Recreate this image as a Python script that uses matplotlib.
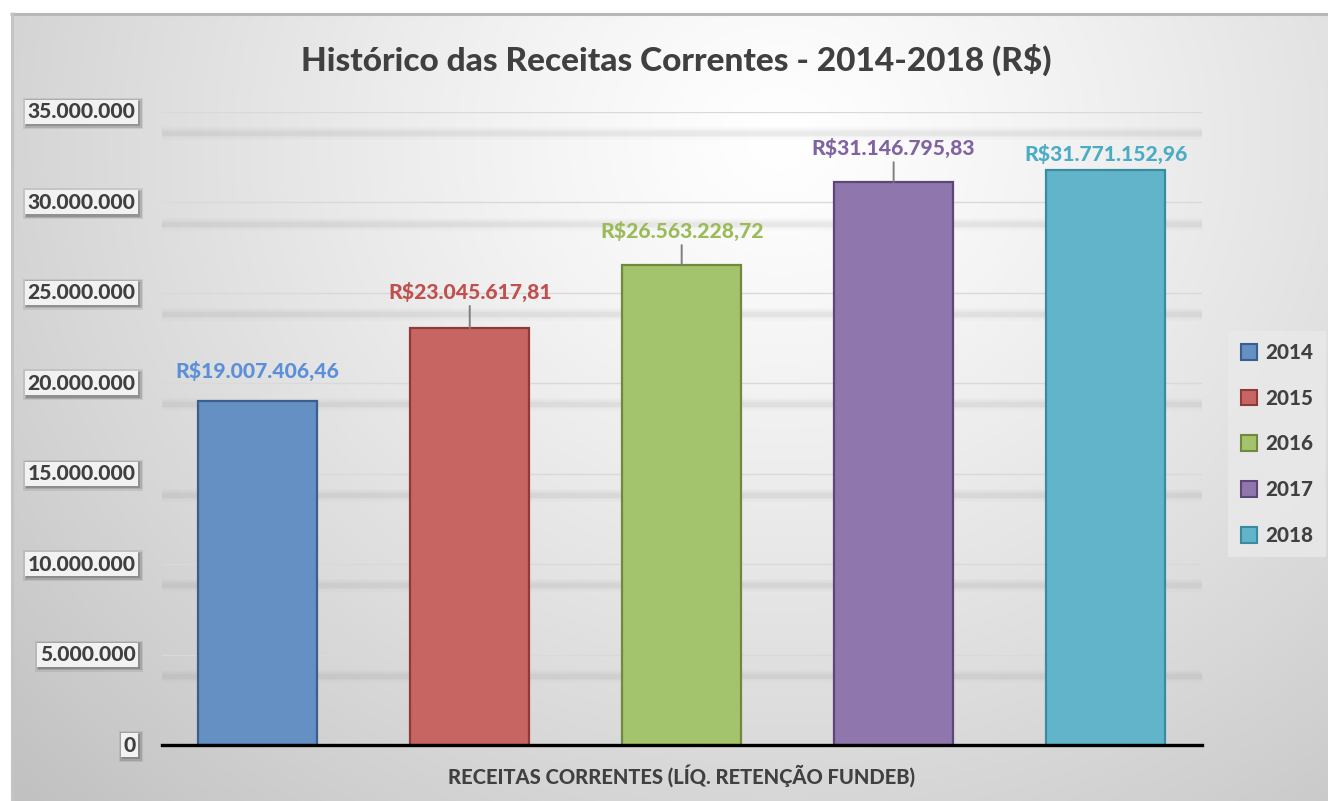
import numpy as np
import matplotlib
matplotlib.use("Agg")
import matplotlib.pyplot as plt
from matplotlib.patches import Patch, Rectangle
from matplotlib.transforms import IdentityTransform

# ---------------- data ----------------
years = ["2014", "2015", "2016", "2017", "2018"]
values = [19007406.46, 23045617.81, 26563228.72, 31146795.83, 31771152.96]
value_labels = ["R$19.007.406,46", "R$23.045.617,81", "R$26.563.228,72",
                "R$31.146.795,83", "R$31.771.152,96"]
yticks = [0, 5000000, 10000000, 15000000, 20000000, 25000000, 30000000, 35000000]
ytick_labels = ["0", "5.000.000", "10.000.000", "15.000.000", "20.000.000",
                "25.000.000", "30.000.000", "35.000.000"]
title = "Histórico das Receitas Correntes - 2014-2018 (R$)"
xlabel = "RECEITAS CORRENTES (LÍQ. RETENÇÃO FUNDEB)"

# ---------------- style ----------------
fill_colors = ["#6590c4", "#c76563", "#a4c36d", "#8f77ae", "#62b4cb"]
edge_colors = ["#3a5f8d", "#8e3a38", "#71893f", "#5c4776", "#3a8aa0"]
label_colors = ["#5b8fd9", "#c0504d", "#9bbb59", "#8064a2", "#4bacc6"]
label_offsets_pt = [22, 26, 24, 24, 12]      # text centre above bar top (points)
leader = [False, True, True, True, False]
FONT = ["Lato", "DejaVu Sans"]
WT = 900
TXT = "#404040"

W, H = 1328, 801
fig = plt.figure(figsize=(W / 100, H / 100), dpi=100)

# background gradient
bg = fig.add_axes([0, 0, 1, 1], zorder=-10)
yy, xx = np.mgrid[0:H, 0:W]
cx, cy = 780, 140
d = np.sqrt(((xx - cx) / 900.0) ** 2 + ((yy - cy) / 800.0) ** 2)
val = 1.0 - 0.20 * np.clip(d, 0, 1.2) ** 1.2
img = np.dstack([val, val, val])
bg.imshow(img, extent=[0, W, H, 0], aspect="auto", interpolation="bilinear")
bg.set_xlim(0, W)
bg.set_ylim(H, 0)
bg.axis("off")
bg.add_patch(Rectangle((0, 0), W, 12, color="white", zorder=2))
bg.add_patch(Rectangle((0, 0), 10, H, color="white", zorder=2))
bg.plot([10, W], [13.5, 13.5], color="#b8b8b8", lw=2.2, zorder=3, solid_capstyle="butt")
bg.plot([11.5, 11.5], [12, H], color="#c4c4c4", lw=2.2, zorder=3, solid_capstyle="butt")

# main axes
left_px, right_px, top_px, bot_px = 162, 1202, 112, 745
ax = fig.add_axes([left_px / W, 1 - bot_px / H, (right_px - left_px) / W, (bot_px - top_px) / H])
ax.patch.set_alpha(0)
x = np.arange(len(years))
ax.set_xlim(-0.452, 4.455)
ax.set_ylim(0, 35000000)
for s in ["top", "right", "left"]:
    ax.spines[s].set_visible(False)
ax.spines["bottom"].set_color("black")
ax.spines["bottom"].set_linewidth(2.4)
ax.spines["bottom"].set_zorder(5)
ax.set_xticks([])
ax.set_yticks(yticks)
ax.set_yticklabels([])
ax.tick_params(axis="y", length=0)

for v in yticks[1:]:
    ax.axhline(v, color="#d9d9d9", lw=1.0, zorder=1)
    sv = v - 1170000
    for lw, a in [(9, 0.03), (6, 0.05), (3.5, 0.07)]:
        ax.axhline(sv, color="#808080", lw=lw, alpha=a, zorder=0.5)

bars = ax.bar(x, values, width=0.561, color=fill_colors, edgecolor=edge_colors,
              linewidth=1.6, zorder=3)

for i, (v, lab) in enumerate(zip(values, value_labels)):
    ax.annotate(lab, (x[i], v), xytext=(0, label_offsets_pt[i]), textcoords="offset points",
                ha="center", va="center", fontsize=15.2, fontweight=WT,
                color=label_colors[i], family=FONT, zorder=6)
    if leader[i]:
        ax.annotate("", (x[i], v), xytext=(0, label_offsets_pt[i] - 10), textcoords="offset points",
                    arrowprops=dict(arrowstyle="-", color="#7f7f7f", lw=1.4, shrinkA=0, shrinkB=0),
                    zorder=6)

# y tick labels in light boxes
tick_texts = []
for v, lab in zip(yticks, ytick_labels):
    t = ax.annotate(lab, (0, v), xycoords=("axes fraction", "data"),
                    xytext=(-19, 0), textcoords="offset points",
                    ha="right", va="center", fontsize=15.2, fontweight=WT,
                    color=TXT, family=FONT, annotation_clip=False, zorder=10,
                    bbox=dict(boxstyle="square,pad=0.12", fc="#f2f2f2", ec="none"))
    tick_texts.append(t)

fig.text(676 / W, 1 - 60 / H, title, ha="center", va="center", fontsize=24,
         fontweight=WT, color=TXT, family=FONT)
fig.text(681 / W, 1 - 776 / H, xlabel, ha="center", va="center", fontsize=14.5,
         fontweight=WT, color=TXT, family=FONT)

handles = [Patch(facecolor=fc, edgecolor=ec, linewidth=1.5) for fc, ec in zip(fill_colors, edge_colors)]
leg = fig.legend(handles, years, loc="center", bbox_to_anchor=(1277 / W, 1 - 444 / H),
                 frameon=True, prop=dict(family=FONT, weight=WT, size=14.8),
                 labelcolor=TXT, handlelength=0.8, handleheight=0.8, handletextpad=0.4,
                 labelspacing=1.3, borderpad=0.6, fancybox=False)
leg.get_frame().set_facecolor("#e9e9e9")
leg.get_frame().set_edgecolor("none")
leg.get_frame().set_alpha(0.85)

# soft shadows behind tick-label boxes (drawn as plain rectangles in pixel space)
fig.canvas.draw()
for t in tick_texts:
    bb = t.get_bbox_patch().get_window_extent()
    for grow, a in [(3.5, 0.10), (2.0, 0.16), (0.8, 0.22)]:
        fig.patches.append(Rectangle((bb.x0 - grow + 1.5, bb.y0 - grow - 1.5),
                                     bb.width + 2 * grow, bb.height + 2 * grow,
                                     transform=IdentityTransform(), facecolor="#303030",
                                     edgecolor="none", alpha=a, zorder=-1, figure=fig))

fig.savefig("out.png", dpi=100)
